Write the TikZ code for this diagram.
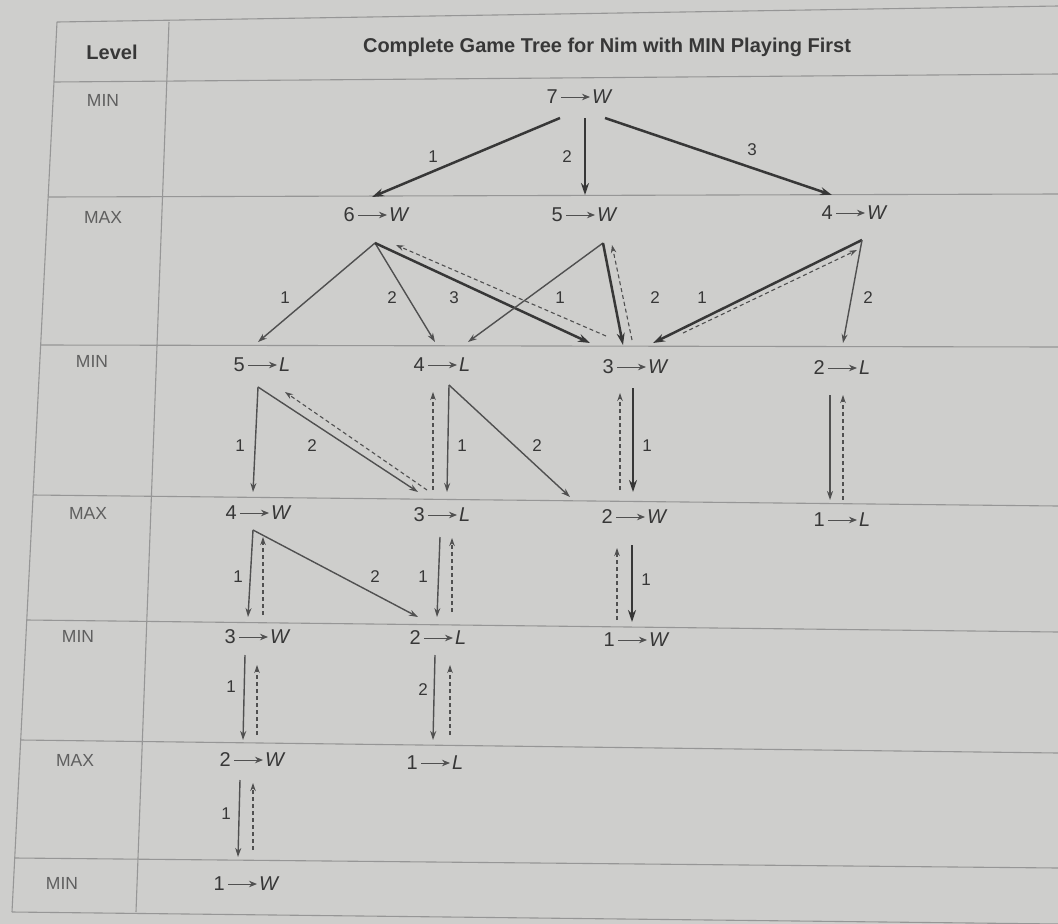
\documentclass[tikz,border=0pt]{standalone}
\usepackage{fontspec}
\setmainfont{Liberation Sans}
\usetikzlibrary{arrows.meta,calc}
\definecolor{paper}{RGB}{206,206,204}
\definecolor{ink}{RGB}{55,55,55}
\definecolor{inklight}{RGB}{80,80,80}
\definecolor{lvlc}{RGB}{95,95,95}
\definecolor{rulec}{RGB}{150,150,150}
\newcommand\gamenode[4]{%
  \coordinate (#1) at #2;
  \node[gn,anchor=east] (#1d) at ($#2+(-16,0)$) {#3};
  \node[gn,anchor=west] (#1l) at ($#2+(16,0)$) {\textit{#4}};
  \draw[txtarrow] (#1d.east) -- (#1l.west);
}
\begin{document}
\begin{tikzpicture}[x=1pt,y=-1pt,
  gn/.style={text=ink,font=\fontsize{20}{24}\selectfont,inner sep=1pt},
  txtarrow/.style={inklight,line width=1pt,shorten <=2pt,shorten >=1pt,-{Stealth[length=8pt,width=6.5pt]}},
  lab/.style={text=ink,font=\fontsize{17}{20}\selectfont,inner sep=1pt},
  lvl/.style={text=lvlc,font=\fontsize{17.5}{20}\selectfont,inner sep=1pt},
  hdr/.style={text=ink,font=\bfseries\fontsize{20}{24}\selectfont,inner sep=1pt},
  tline/.style={rulec,line width=1.1pt},
  thickedge/.style={ink,line width=2.5pt,-{Stealth[length=12pt,width=8pt]}},
  thinedge/.style={inklight,line width=1.4pt,-{Stealth[length=9pt,width=6pt]}},
  backedge/.style={inklight,line width=1.1pt,dash pattern=on 4pt off 3pt,-{Stealth[length=8pt,width=5.5pt]}}]
\useasboundingbox (0,0) rectangle (1058,924);
\fill[paper] (0,0) rectangle (1058,924);
% table
\draw[tline] (57,22) -- (12,912);
\draw[tline] (169,22) -- (136,912);
\draw[tline] (57,22) -- (1058,6);
\draw[tline] (54,82) -- (1058,74);
\draw[tline] (48,197) -- (1058,194);
\draw[tline] (41,345) -- (1058,347);
\draw[tline] (33,495) -- (1058,506);
\draw[tline] (27,620) -- (1058,632);
\draw[tline] (21,740) -- (1058,753);
\draw[tline] (15,858) -- (1058,868);
\draw[tline] (12,912) -- (1058,924);
% header and levels
\node[hdr] (hlevel) at (112,52) {Level};
\node[hdr] (htitle) at (607,47) {Complete Game Tree for Nim with MIN Playing First};
\node[lvl] (l1) at (103,100) {MIN};
\node[lvl] (l2) at (103,217) {MAX};
\node[lvl] (l3) at (92,361) {MIN};
\node[lvl] (l4) at (88,513) {MAX};
\node[lvl] (l5) at (78,636) {MIN};
\node[lvl] (l6) at (75,760) {MAX};
\node[lvl] (l7) at (62,883) {MIN};
% game nodes
\gamenode{n7}{(575,97)}{7}{W}
\gamenode{n6}{(372,215)}{6}{W}
\gamenode{n5}{(580,215)}{5}{W}
\gamenode{n4}{(850,213)}{4}{W}
\gamenode{m5}{(262,365)}{5}{L}
\gamenode{m4}{(442,365)}{4}{L}
\gamenode{m3}{(631,367)}{3}{W}
\gamenode{m2}{(842,368)}{2}{L}
\gamenode{x4}{(254,513)}{4}{W}
\gamenode{x3}{(442,515)}{3}{L}
\gamenode{x2}{(630,517)}{2}{W}
\gamenode{x1}{(842,520)}{1}{L}
\gamenode{p3}{(253,637)}{3}{W}
\gamenode{p2}{(438,638)}{2}{L}
\gamenode{p1}{(632,640)}{1}{W}
\gamenode{q2}{(248,760)}{2}{W}
\gamenode{q1}{(435,763)}{1}{L}
\gamenode{r1}{(242,884)}{1}{W}
% level 0 -> 1
\draw[thickedge] ($(n7)+(-15,21)$) -- ($(n6)+(0,-18)$);
\draw[thickedge] ($(n7)+(10,21)$) -- ($(n5)+(5,-20)$);
\draw[thickedge] ($(n7)+(30,21)$) -- ($(n4)+(-18,-18)$);
% level 1 -> 2
\draw[thinedge] ($(n6)+(3,28)$) -- ($(m5)+(-4,-23)$);
\draw[thinedge] ($(n6)+(3,28)$) -- ($(m4)+(-7,-23)$);
\draw[thickedge] ($(n6)+(3,28)$) -- ($(m3)+(-41,-24)$);
\draw[backedge] ($(m3)+(-25,-31)$) -- ($(n6)+(24,30)$);
\draw[thinedge] ($(n5)+(23,28)$) -- ($(m4)+(26,-23)$);
\draw[thickedge] ($(n5)+(23,28)$) -- ($(m3)+(-8,-22)$);
\draw[backedge] ($(m3)+(1,-27)$) -- ($(n5)+(32,30)$);
\draw[thickedge] ($(n4)+(12,27)$) -- ($(m3)+(22,-24)$);
\draw[thinedge] ($(n4)+(12,27)$) -- ($(m2)+(1,-25)$);
\draw[backedge] ($(m3)+(52,-34)$) -- ($(n4)+(7,37)$);
% level 2 -> 3
\draw[thinedge] ($(m5)+(-4,22)$) -- ($(x4)+(-1,-21)$);
\draw[thinedge] ($(m5)+(-4,22)$) -- ($(x3)+(-24,-23)$);
\draw[backedge] ($(x3)+(-15,-25)$) -- ($(m5)+(23,27)$);
\draw[backedge] ($(x3)+(-9,-25)$) -- ($(m4)+(-9,27)$);
\draw[thinedge] ($(m4)+(7,20)$) -- ($(x3)+(5,-23)$);
\draw[thinedge] ($(m4)+(7,20)$) -- ($(x2)+(-60,-20)$);
\draw[thickedge] ($(m3)+(2,21)$) -- ($(x2)+(3,-25)$);
\draw[backedge] ($(x2)+(-10,-27)$) -- ($(m3)+(-11,26)$);
\draw[thinedge] ($(m2)+(-12,27)$) -- ($(x1)+(-12,-20)$);
\draw[backedge] ($(x1)+(1,-20)$) -- ($(m2)+(1,27)$);
% level 3 -> 4
\draw[thinedge] ($(x4)+(-1,17)$) -- ($(p3)+(-5,-20)$);
\draw[thinedge] ($(x4)+(-1,17)$) -- ($(p2)+(-20,-21)$);
\draw[backedge] ($(p3)+(10,-22)$) -- ($(x4)+(9,24)$);
\draw[thinedge] ($(x3)+(-2,22)$) -- ($(p2)+(-1,-21)$);
\draw[backedge] ($(p2)+(14,-26)$) -- ($(x3)+(10,23)$);
\draw[thickedge] ($(x2)+(2,28)$) -- ($(p1)+(0,-18)$);
\draw[backedge] ($(p1)+(-15,-20)$) -- ($(x2)+(-13,31)$);
% level 4 -> 5
\draw[thinedge] ($(p3)+(-8,18)$) -- ($(q2)+(-5,-20)$);
\draw[backedge] ($(q2)+(9,-25)$) -- ($(p3)+(4,28)$);
\draw[thinedge] ($(p2)+(-3,17)$) -- ($(q1)+(-2,-23)$);
\draw[backedge] ($(q1)+(15,-28)$) -- ($(p2)+(12,27)$);
% level 5 -> 6
\draw[thinedge] ($(q2)+(-8,20)$) -- ($(r1)+(-4,-27)$);
\draw[backedge] ($(r1)+(11,-34)$) -- ($(q2)+(5,23)$);
% edge labels
\node[lab] (a1) at (433,157) {1};
\node[lab] (a2) at (567,157) {2};
\node[lab] (a3) at (752,150) {3};
\node[lab] (b1) at (285,298) {1};
\node[lab] (b2) at (392,298) {2};
\node[lab] (b3) at (454,298) {3};
\node[lab] (b4) at (560,298) {1};
\node[lab] (b5) at (655,298) {2};
\node[lab] (b6) at (702,298) {1};
\node[lab] (b7) at (868,298) {2};
\node[lab] (c1) at (240,446) {1};
\node[lab] (c2) at (312,446) {2};
\node[lab] (c3) at (462,446) {1};
\node[lab] (c4) at (537,446) {2};
\node[lab] (c5) at (647,446) {1};
\node[lab] (d1) at (238,577) {1};
\node[lab] (d2) at (375,577) {2};
\node[lab] (d3) at (423,577) {1};
\node[lab] (d4) at (646,580) {1};
\node[lab] (e1) at (231,687) {1};
\node[lab] (e2) at (423,690) {2};
\node[lab] (f1) at (226,814) {1};
\end{tikzpicture}
\end{document}
